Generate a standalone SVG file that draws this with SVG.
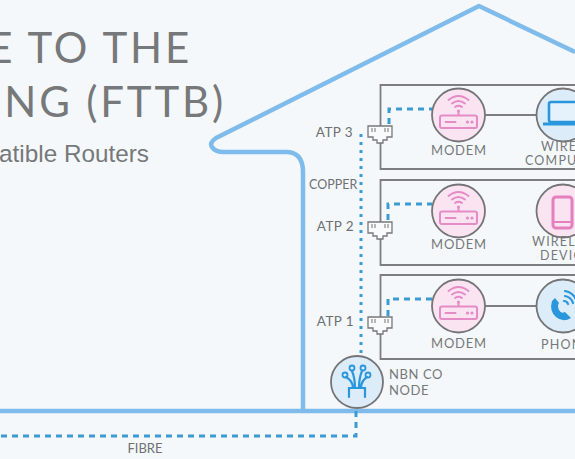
<svg xmlns="http://www.w3.org/2000/svg" width="575" height="459" viewBox="0 0 575 459">
<style>
.t{font-family:"Lato","Liberation Sans",sans-serif;fill:#6f7072}
.title{font-size:42px;font-weight:400;text-anchor:end;fill:#77787a;letter-spacing:2.8px}
.sub{font-family:"Liberation Sans",sans-serif;font-size:24.3px;fill:#77787a;text-anchor:end}
.lab{font-size:13px;letter-spacing:.8px;text-anchor:middle;fill:#77787a}
.cut{font-size:12.5px;letter-spacing:1.2px;fill:#77787a}
.atp{font-size:13.5px;text-anchor:end;letter-spacing:.4px;fill:#6f7072}
.panel{fill:none;stroke:#7d7e80;stroke-width:1.8}
.cm{fill:#fbe4f2;stroke:#757577;stroke-width:1.8}
.cb{fill:#dcecf8;stroke:#757577;stroke-width:1.8}
.wall{fill:none;stroke:#7fbcec;stroke-width:4.5;stroke-linejoin:round}
.dash{fill:none;stroke:#3d9bd4;stroke-width:3;stroke-dasharray:6 5}
.dot{fill:none;stroke:#3d9bd4;stroke-width:3;stroke-dasharray:3 5}
.pk{fill:none;stroke:#e58bc6;stroke-width:2;stroke-linecap:round}
.bl{fill:none;stroke:#2a96dc;stroke-width:2.2;stroke-linecap:round}
.atpbox{fill:#f8fafc;stroke:#77787a;stroke-width:1.3}
</style>
<defs>
<g id="router">
<path class="pk" d="M-10 -15Q0 -23 10 -15M-6.500 -11.500Q0 -16.500 6.500 -11.500M-3.500 -8Q0 -10.500 3.500 -8"/>
<circle cx="0" cy="-4" r="1.500" fill="#e58bc6"/>
<path class="pk" d="M0 -4V0"/>
<rect class="pk" x="-18.500" y="0.500" width="37" height="12.500" rx="2"/>
<path class="pk" d="M-13 7H-3"/>
<circle cx="9" cy="7" r="1.600" fill="#e58bc6"/><circle cx="13.500" cy="7" r="1.600" fill="#e58bc6"/>
</g>
<g id="jack">
<path class="atpbox" d="M-12 -6H12V5H7V8H3V11H-3V8H-7V5H-12Z"/>
<path d="M-8 -4V0M-5 -4V0M5 -4V0M8 -4V0" stroke="#8a8b8d" stroke-width="1.200"/>
</g>
</defs>
<rect width="575" height="459" fill="#f4f8fb"/>
<g id="title">
<text class="t title" x="192" y="63">E TO THE</text>
<text class="t title" x="226" y="117">ING (FTTB)</text>
<text class="sub" x="149" y="162">atible Routers</text>
</g>
<g id="house">
<path class="wall" d="M575 52L479 6L216 138Q209 143 212 147Q215 152 224 152H286Q303 152 303 172V411"/>
<path class="wall" d="M0 411H575"/>
</g>
<g id="panels">
<path class="panel" d="M575 85H380.500V169H575"/>
<path class="panel" d="M575 180H380.500V265H575"/>
<path class="panel" d="M575 275H380.500V359H575"/>
</g>
<g id="connectors">
<path class="dot" d="M361 134V357"/>
<path class="dash" d="M389 124V109H432"/>
<path class="dash" d="M388 220V204H432"/>
<path class="dash" d="M388 316V299H432"/>
<path class="dash" d="M356 411V436H0"/>
<path d="M485 115H537M485 306H537" stroke="#7d7e80" stroke-width="1.800" fill="none"/>
</g>
<g id="atp3"><use href="#jack" x="380" y="132"/><text class="t atp" x="353" y="137">ATP 3</text></g>
<g id="copper"><text class="t" x="309" y="189" style="font-size:12.5px">COPPER</text></g>
<g id="atp2"><use href="#jack" x="380" y="228"/><text class="t atp" x="354" y="231">ATP 2</text></g>
<g id="atp1"><use href="#jack" x="380" y="323"/><text class="t atp" x="354" y="326">ATP 1</text></g>
<g id="modem3"><circle class="cm" cx="458.500" cy="115" r="26.500"/><use href="#router" x="458.500" y="115"/><text class="t lab" x="459" y="155">MODEM</text></g>
<g id="modem2"><circle class="cm" cx="458.500" cy="211" r="26.500"/><use href="#router" x="458.500" y="211"/><text class="t lab" x="459" y="249">MODEM</text></g>
<g id="modem1"><circle class="cm" cx="458.500" cy="306" r="26.500"/><use href="#router" x="458.500" y="306"/><text class="t lab" x="459" y="348">MODEM</text></g>
<g id="computer"><circle class="cb" cx="563" cy="115" r="26.500"/>
<rect x="549" y="102" width="32" height="20" rx="2" fill="#e6f2fb" stroke="#2a96dc" stroke-width="2.600"/>
<path d="M543 124H586" stroke="#2a96dc" stroke-width="3"/>
<text class="t cut" x="541" y="151">WIRE</text><text class="t cut" x="525" y="165">COMPU</text></g>
<g id="device"><circle class="cm" cx="563" cy="211" r="26.500"/>
<rect x="553" y="197" width="19" height="31" rx="3" fill="none" stroke="#e57fbd" stroke-width="3"/>
<path d="M553 222H572" stroke="#e57fbd" stroke-width="2"/>
<text class="t cut" x="532" y="246">WIREL</text><text class="t cut" x="540" y="260">DEVIC</text></g>
<g id="phone"><circle class="cb" cx="563" cy="306" r="26.500"/>
<path d="M552 301Q549 311 556 317Q563 323 571 318L565 312Q561 314 559 310Q557 306 559 303L555 298Z" fill="#2a96dc"/>
<path class="bl" d="M565 291Q575 293 577 303M565 296Q571 297 573 303M564 301Q567 301 568 304"/>
<text class="t cut" x="541" y="349">PHON</text></g>
<g id="node"><circle class="cb" cx="357" cy="382" r="26"/>
<path class="bl" d="M349 397V388H365V397M353 388Q353 381 346 377M361 388Q361 381 367 377M355 388Q355 378 352 371M359 388Q359 378 362 371"/>
<g fill="none" stroke="#2a96dc" stroke-width="1.800"><circle cx="345" cy="375" r="2.500"/><circle cx="368" cy="375" r="2.500"/><circle cx="352" cy="368" r="2.500"/><circle cx="363" cy="368" r="2.500"/></g>
<text class="t" x="389" y="379" style="font-size:13px;letter-spacing:.6px;fill:#77787a">NBN CO</text>
<text class="t" x="389" y="395" style="font-size:13px;letter-spacing:.6px;fill:#77787a">NODE</text></g>
<g id="fibre"><text class="t" x="145" y="453" text-anchor="middle" style="font-size:13px">FIBRE</text></g>
</svg>
